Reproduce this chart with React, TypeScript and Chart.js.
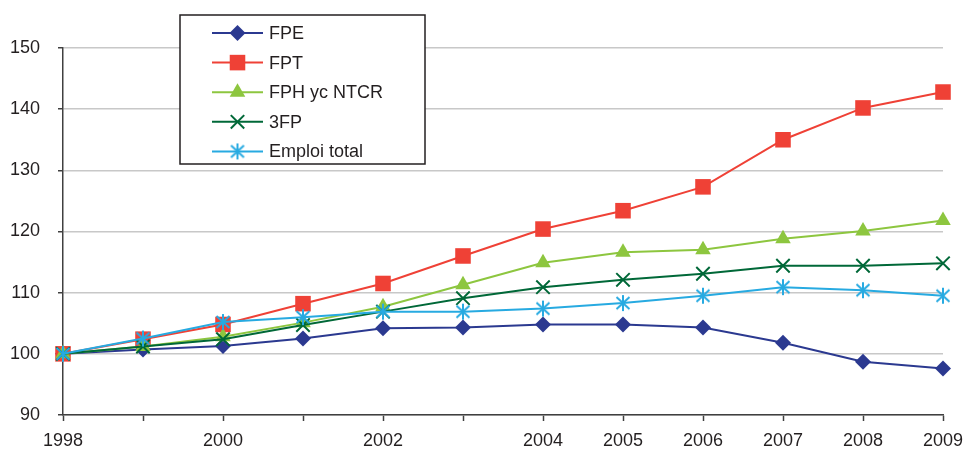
import React, { useEffect, useRef } from "react";
import { Chart, registerables } from "chart.js";
import { drawPoint } from "chart.js/helpers";

Chart.register(...registerables);

const years = ["1998", "1999", "2000", "2001", "2002", "2003", "2004", "2005", "2006", "2007", "2008", "2009"];
const shownYearLabels = ["1998", "2000", "2002", "2004", "2005", "2006", "2007", "2008", "2009"];
const seriesNames = ["FPE", "FPT", "FPH yc NTCR", "3FP", "Emploi total"];
const fpe = [100, 100.7, 101.3, 102.5, 104.2, 104.3, 104.8, 104.8, 104.3, 101.8, 98.7, 97.6];
const fpt = [100, 102.4, 104.8, 108.2, 111.5, 116.0, 120.4, 123.4, 127.3, 135.0, 140.2, 142.8];
const fph = [100, 101.2, 102.8, 105.1, 107.7, 111.3, 114.9, 116.6, 117.0, 118.8, 120.1, 121.8];
const threeFp = [100, 101.2, 102.4, 104.7, 106.9, 109.1, 110.9, 112.1, 113.1, 114.4, 114.4, 114.8];
const emploi = [100, 102.5, 105.2, 106.0, 106.9, 106.9, 107.4, 108.3, 109.5, 110.9, 110.4, 109.5];
const yMin = 90;
const yMax = 150;
const yStep = 10;

const colors = ["#2b3990", "#ef4136", "#8dc63f", "#006838", "#27aae1"];
const FONT = "'Liberation Sans', Arial, sans-serif";

function makeAsterisk(color: string): HTMLCanvasElement {
  const c = document.createElement("canvas");
  c.width = 18;
  c.height = 18;
  const g = c.getContext("2d")!;
  g.strokeStyle = color;
  g.lineWidth = 2;
  g.beginPath();
  g.moveTo(9, 1);
  g.lineTo(9, 17);
  g.moveTo(2.5, 3);
  g.lineTo(15.5, 15);
  g.moveTo(15.5, 3);
  g.lineTo(2.5, 15);
  g.stroke();
  return c;
}

export default function App() {
  const ref = useRef<HTMLCanvasElement | null>(null);

  useEffect(() => {
    if (!ref.current) return;
    const asterisk = makeAsterisk(colors[4]);
    const styles: any[] = ["rectRot", "rect", "triangle", "crossRot", asterisk];
    const radii = [8, 11, 9, 9.5, 9];
    const allData = [fpe, fpt, fph, threeFp, emploi];

    const datasets = seriesNames.map((name, i) => ({
      label: name,
      data: allData[i],
      borderColor: colors[i],
      backgroundColor: colors[i],
      pointBackgroundColor: colors[i],
      pointBorderColor: colors[i],
      pointStyle: styles[i],
      pointRadius: radii[i],
      pointBorderWidth: i === 3 ? 2 : 0,
      borderWidth: 2,
      tension: 0,
      order: 5 - i,
    }));

    const legendPlugin = {
      id: "boxLegend",
      afterDatasetsDraw(chart: any) {
        const ctx = chart.ctx as CanvasRenderingContext2D;
        ctx.save();
        const bx = 180, by = 15, bw = 245, bh = 149;
        ctx.fillStyle = "#ffffff";
        ctx.fillRect(bx, by, bw, bh);
        ctx.strokeStyle = "#231f20";
        ctx.lineWidth = 1.5;
        ctx.strokeRect(bx, by, bw, bh);
        ctx.font = `18px ${FONT}`;
        ctx.textBaseline = "middle";
        ctx.textAlign = "left";
        seriesNames.forEach((name, i) => {
          const y = 33 + i * 29.6;
          ctx.strokeStyle = colors[i];
          ctx.lineWidth = 2;
          ctx.beginPath();
          ctx.moveTo(212, y);
          ctx.lineTo(263, y);
          ctx.stroke();
          ctx.fillStyle = colors[i];
          ctx.strokeStyle = colors[i];
          ctx.lineWidth = i === 3 ? 2 : 0;
          drawPoint(ctx, { pointStyle: styles[i], radius: radii[i], rotation: 0, borderWidth: i === 3 ? 2 : 0 } as any, 237.5, y);
          ctx.fillStyle = "#231f20";
          ctx.fillText(name, 269, y + 1);
        });
        ctx.restore();
      },
    };

    const chart = new Chart(ref.current, {
      type: "line",
      data: { labels: years, datasets },
      plugins: [legendPlugin],
      options: {
        animation: false,
        responsive: false,
        events: [],
        layout: { padding: { top: 48, right: 24, left: 0, bottom: 0 } },
        plugins: { legend: { display: false }, tooltip: { enabled: false } },
        scales: {
          x: {
            type: "category",
            offset: false,
            grid: {
              display: true,
              drawOnChartArea: false,
              drawTicks: true,
              tickLength: 6,
              tickColor: "#404040",
              tickWidth: 1.5,
              offset: false,
            },
            border: { display: true, color: "#404040", width: 1.5 },
            ticks: {
              autoSkip: false,
              maxRotation: 0,
              minRotation: 0,
              padding: 9,
              color: "#231f20",
              font: { family: FONT, size: 18 },
              callback: (_v: any, idx: number) =>
                shownYearLabels.includes(years[idx]) ? years[idx] : "",
            },
            afterFit: (s: any) => {
              s.height = 34;
              s.paddingLeft = 0;
              s.paddingRight = 0;
            },
          },
          y: {
            min: yMin,
            max: yMax,
            grid: {
              color: "#c8c8c8",
              lineWidth: 1.5,
              drawTicks: true,
              tickLength: 5,
              tickColor: "#404040",
              tickWidth: 1.5,
            },
            border: { display: true, color: "#404040", width: 1.5 },
            ticks: {
              stepSize: yStep,
              padding: 18,
              color: "#231f20",
              font: { family: FONT, size: 18 },
            },
            afterFit: (s: any) => {
              s.width = 63;
              s.paddingTop = 0;
              s.paddingBottom = 0;
            },
          },
        },
      },
    });
    return () => chart.destroy();
  }, []);

  return (
    <div style={{ position: "absolute", left: 0, top: 0, width: 967, height: 449, background: "#fff" }}>
      <canvas ref={ref} width={967} height={449} style={{ width: 967, height: 449 }} />
    </div>
  );
}
